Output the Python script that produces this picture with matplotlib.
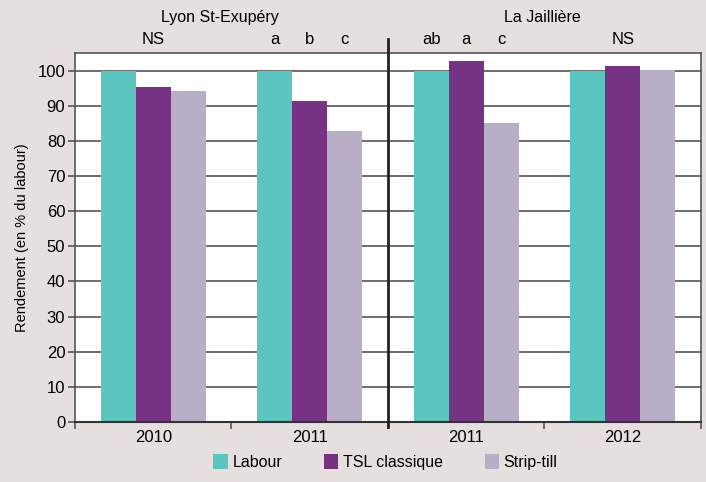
import matplotlib
matplotlib.use('Agg')
import matplotlib.pyplot as plt
import numpy as np

# data (yield in % of labour)
years = ['2010', '2011', '2011', '2012']
sites = ['Lyon St-Exupéry', 'La Jaillière']
labour = [100, 100, 100, 100]
tsl = [95.3, 91.4, 102.6, 101.4]
strip = [94.3, 82.8, 85.0, 100.2]
letters = [['NS'], ['a', 'b', 'c'], ['ab', 'a', 'c'], ['NS']]

plt.rcParams['font.family'] = ['Liberation Sans', 'DejaVu Sans']

bg = '#e5e0dd'
c_lab = '#5bc5bf'
c_tsl = '#763384'
c_str = '#b8aec6'
grey = '#555555'

fig = plt.figure(figsize=(7.06, 4.82), dpi=100, facecolor=bg)
ax = fig.add_axes([0.1062, 0.1245, 0.8867, 0.7655])
ax.set_facecolor('white')

x = np.arange(len(years))
w = 0.224
ax.bar(x - w, labour, w, color=c_lab, label='Labour', zorder=2)
ax.bar(x, tsl, w, color=c_tsl, label='TSL classique', zorder=2)
ax.bar(x + w, strip, w, color=c_str, label='Strip-till', zorder=2)

ax.set_xlim(-0.5, 3.5)
ax.set_ylim(0, 105)
ax.set_yticks(range(0, 101, 10))
ax.yaxis.grid(True, color=grey, lw=1.2, zorder=1)
ax.set_axisbelow(True)

# category boundaries as ticks, year labels centred
ax.set_xticks([-0.5, 0.5, 1.5, 2.5, 3.5])
ax.set_xticklabels([])
ax.set_xticks(x, minor=True)
ax.set_xticklabels(years, minor=True, fontsize=12)
ax.tick_params(axis='x', which='minor', length=0, pad=6)
ax.tick_params(axis='x', which='major', length=5, color=grey, width=1.2)
ax.tick_params(axis='y', length=5, color=grey, width=1.2, labelsize=12, pad=2)

for s in ax.spines.values():
    s.set_color(grey)
    s.set_linewidth(1.2)
ax.spines['bottom'].set_color('#333333')
ax.spines['bottom'].set_linewidth(1.5)

ax.set_ylabel('Rendement (en % du labour)', fontsize=10.5, labelpad=6)

# separator between sites
ax.plot([1.5, 1.5], [-0.014, 1.038], color='#222222', lw=2,
        transform=ax.get_xaxis_transform(), clip_on=False, zorder=5)

# site names
ax.text(0.232, 1.095, sites[0], transform=ax.transAxes, ha='center', va='center', fontsize=11.5)
ax.text(0.746, 1.095, sites[1], transform=ax.transAxes, ha='center', va='center', fontsize=11.5)

# significance letters
for i, lt in enumerate(letters):
    if len(lt) == 1:
        pos = [x[i]]
    else:
        pos = [x[i] - w, x[i], x[i] + w]
    for p, s in zip(pos, lt):
        ax.text(p, 1.036, s, transform=ax.get_xaxis_transform(), ha='center', va='center', fontsize=12)

leg = fig.legend(loc='lower center', bbox_to_anchor=(0.546, -0.005), ncol=3, frameon=False,
                 fontsize=11.5, handlelength=0.9, handleheight=1.0, handletextpad=0.3,
                 columnspacing=2.6)

fig.savefig('out.png', dpi=100, facecolor=bg)
